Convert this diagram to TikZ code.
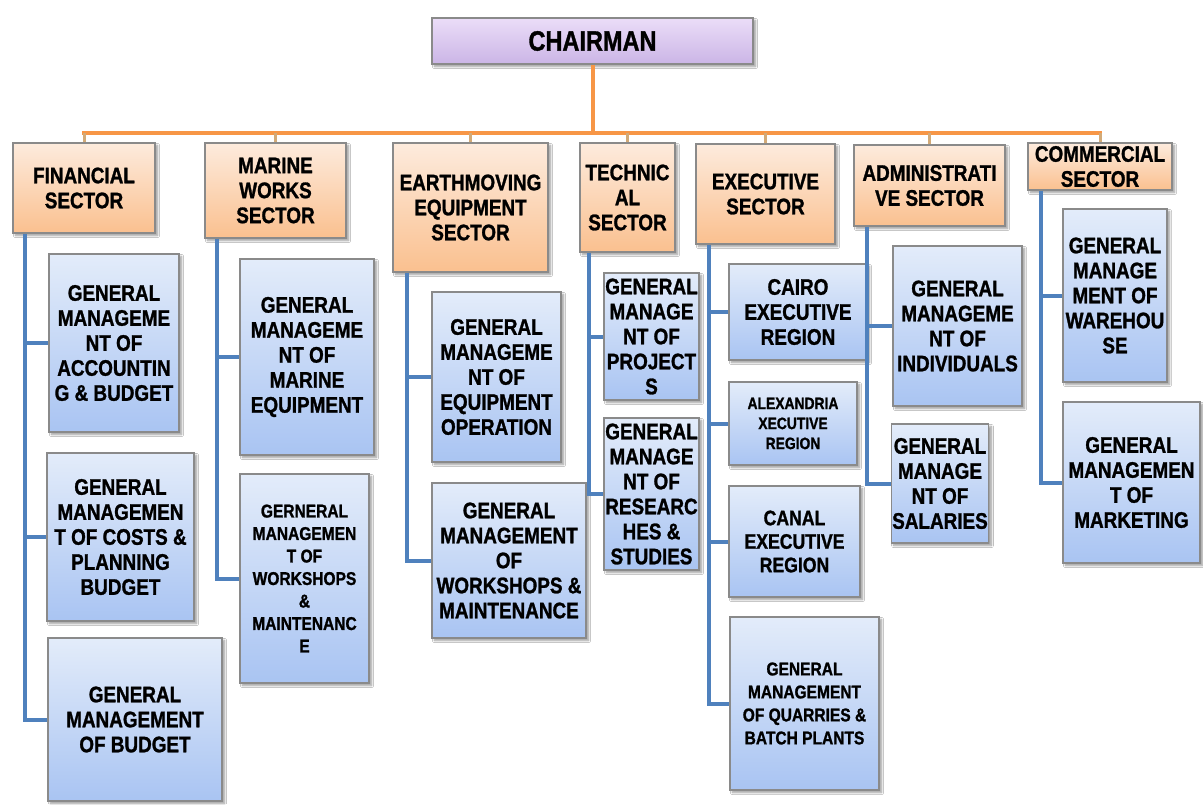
\documentclass[tikz,border=0pt]{standalone}
\usepackage{fontspec}
\setmainfont{Liberation Sans}[FakeStretch=0.84, BoldFeatures={FakeBold=1.2}]
\usetikzlibrary{shadows.blur}
\definecolor{barorange}{HTML}{F79646}
\definecolor{stubtan}{HTML}{D2AA78}
\definecolor{linkblue}{HTML}{4F81BD}
\definecolor{boxedge}{HTML}{8A8A8A}
\definecolor{orTop}{HTML}{FDEBDD}
\definecolor{orBot}{HTML}{FAC08F}
\definecolor{blTop}{HTML}{E3ECFA}
\definecolor{blBot}{HTML}{A9C4F2}
\definecolor{puTop}{HTML}{EBDDF8}
\definecolor{puBot}{HTML}{CBB5E6}
\begin{document}
\begin{tikzpicture}[x=1pt,y=-1pt,
 base/.style={draw=boxedge, line width=1.2pt, inner sep=1pt, align=center,
   font=\bfseries\fontsize{22.5}{25}\selectfont,
   blur shadow={shadow xshift=2.5pt, shadow yshift=-2.5pt, shadow blur steps=6, shadow opacity=40}},
 sect/.style={base, top color=orTop, bottom color=orBot},
 unit/.style={base, top color=blTop, bottom color=blBot},
 chair/.style={base, top color=puTop, bottom color=puBot},
 box/.style n args={2}{minimum width=#1, minimum height=#2},
 orline/.style={draw=barorange, line width=4pt},
 stub/.style={draw=stubtan, line width=3pt},
 blline/.style={draw=linkblue, line width=4pt},
]
\fill[white] (0,0) rectangle (1203,804);
\useasboundingbox (0,0) rectangle (1203,804);

% chairman and sectors
\node[chair, box={321pt}{46pt}, font=\bfseries\fontsize{28}{30}\selectfont] (CH) at (592.5,41) {CHAIRMAN};
\node[sect, box={142pt}{90pt}]  (F) at (84,188)     {FINANCIAL\\SECTOR};
\node[sect, box={141pt}{95pt}]  (M) at (275.5,190.5){MARINE\\WORKS\\SECTOR};
\node[sect, box={155pt}{129pt}] (E) at (470.5,207.5){EARTHMOVING\\EQUIPMENT\\SECTOR};
\node[sect, box={95pt}{109pt}]  (T) at (627.5,197.5){TECHNIC\\AL\\SECTOR};
\node[sect, box={139pt}{100pt}] (X) at (765.5,194)  {EXECUTIVE\\SECTOR};
\node[sect, box={151pt}{81pt}]  (A) at (929.5,185.5){ADMINISTRATI\\VE SECTOR};
\node[sect, box={144pt}{47pt}]  (K) at (1100,166.5) {COMMERCIAL\\SECTOR};

% financial units
\node[unit, box={130pt}{178pt}] (C1) at (114,343)   {GENERAL\\MANAGEME\\NT OF\\ACCOUNTIN\\G \& BUDGET};
\node[unit, box={147pt}{168pt}] (C2) at (120.5,537) {GENERAL\\MANAGEMEN\\T OF COSTS \&\\PLANNING\\BUDGET};
\node[unit, box={174pt}{163pt}] (C3) at (135,719.5) {GENERAL\\MANAGEMENT\\OF BUDGET};
% marine units
\node[unit, box={134pt}{196pt}] (M1) at (307,357)   {GENERAL\\MANAGEME\\NT OF\\MARINE\\EQUIPMENT};
\node[unit, box={129pt}{209pt}, font=\bfseries\fontsize{18.5}{22.5}\selectfont] (M2) at (304.5,578.5) {GERNERAL\\MANAGEMEN\\T OF\\WORKSHOPS\\\&\\MAINTENANC\\E};
% earthmoving units
\node[unit, box={129pt}{170pt}] (E1) at (496.5,377) {GENERAL\\MANAGEME\\NT OF\\EQUIPMENT\\OPERATION};
\node[unit, box={154pt}{155pt}] (E2) at (509,560.5) {GENERAL\\MANAGEMENT\\OF\\WORKSHOPS \&\\MAINTENANCE};
% technical units
\node[unit, box={95pt}{127pt}]  (T1) at (651.5,336.5){GENERAL\\MANAGE\\NT OF\\PROJECT\\S};
\node[unit, box={95pt}{152pt}]  (T2) at (651.5,494)  {GENERAL\\MANAGE\\NT OF\\RESEARC\\HES \&\\STUDIES};
% executive units
\node[unit, box={138pt}{96pt}]  (X1) at (798,312)    {CAIRO\\EXECUTIVE\\REGION};
\node[unit, box={128pt}{83pt}, font=\bfseries\fontsize{16.5}{20}\selectfont] (X2) at (793,423.5) {ALEXANDRIA\\XECUTIVE\\REGION};
\node[unit, box={131pt}{111pt}, font=\bfseries\fontsize{21}{23.5}\selectfont] (X3) at (794.5,541.5) {CANAL\\EXECUTIVE\\REGION};
\node[unit, box={149pt}{173pt}, font=\bfseries\fontsize{18.5}{23}\selectfont] (X4) at (804.5,703.5) {GENERAL\\MANAGEMENT\\OF QUARRIES \&\\BATCH PLANTS};
% administrative units
\node[unit, box={129pt}{160pt}] (A1) at (957.5,326)  {GENERAL\\MANAGEME\\NT OF\\INDIVIDUALS};
\node[unit, box={96pt}{119pt}]  (A2) at (940,483.5)  {GENERAL\\MANAGE\\NT OF\\SALARIES};
% commercial units
\node[unit, box={104pt}{173pt}] (K1) at (1115,295.5) {GENERAL\\MANAGE\\MENT OF\\WAREHOU\\SE};
\node[unit, box={137pt}{161pt}] (K2) at (1131.5,482.5){GENERAL\\MANAGEMEN\\T OF\\MARKETING};

% orange connectors
\coordinate (bar) at (0,133);
\draw[orline] (CH.south) -- (CH.south |- bar);
\draw[orline, line cap=rect] (F.north |- bar) -- (K.north |- bar);
\foreach \n in {F,M,E,T,X,A,K}
  \draw[stub] (\n.north) -- (\n.north |- bar);

% blue connectors
\draw[blline] ([xshift=13pt]F.south west) coordinate (fv) |- (C3.west);
\draw[blline] (fv |- C1.west) -- (C1.west);
\draw[blline] (fv |- C2.west) -- (C2.west);

\draw[blline] ([xshift=13pt]M.south west) coordinate (mv) |- (M2.west);
\draw[blline] (mv |- M1.west) -- (M1.west);

\draw[blline] ([xshift=15pt]E.south west) coordinate (ev) |- (E2.west);
\draw[blline] (ev |- E1.west) -- (E1.west);

\draw[blline] ([xshift=10pt]T.south west) coordinate (tv) |- (T2.west);
\draw[blline] (tv |- T1.west) -- (T1.west);

\draw[blline] ([xshift=14pt]X.south west) coordinate (xv) |- (X4.west);
\draw[blline] (xv |- X1.west) -- (X1.west);
\draw[blline] (xv |- X2.west) -- (X2.west);
\draw[blline] (xv |- X3.west) -- (X3.west);

\draw[blline] ([xshift=14pt]A.south west) coordinate (av) |- (A2.west);
\draw[blline] (av |- A1.west) -- (A1.west);

\draw[blline] ([xshift=14pt]K.south west) coordinate (kv) |- (K2.west);
\draw[blline] (kv |- K1.west) -- (K1.west);
\end{tikzpicture}
\end{document}
